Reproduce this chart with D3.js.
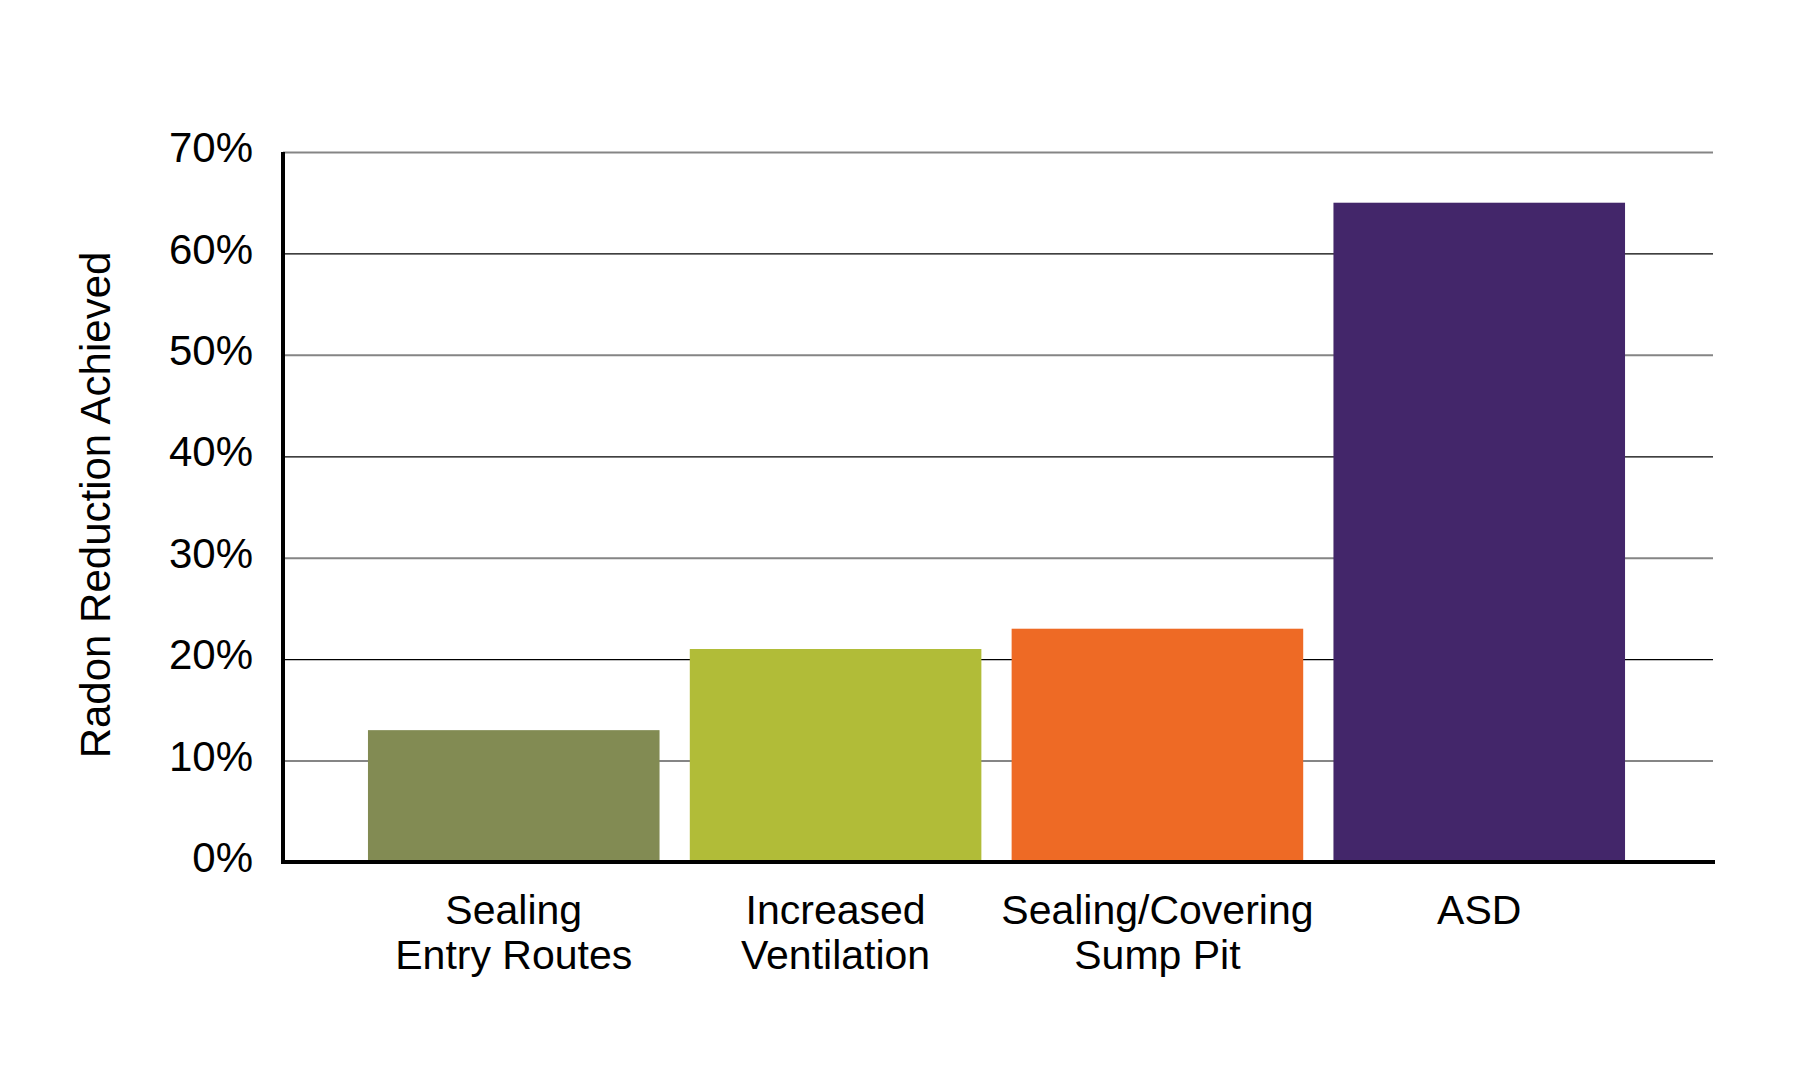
<!DOCTYPE html>
<html>
<head>
<meta charset="utf-8">
<script src="https://cdn.jsdelivr.net/npm/d3@7"></script>
<style>
  body { margin: 0; background: #fff; }
  text { font-family: "Liberation Sans", Arial, Helvetica, sans-serif; fill: #000; }
</style>
</head>
<body>
<svg width="1800" height="1072"></svg>
<script>
var categories = ["Sealing\nEntry Routes", "Increased\nVentilation", "Sealing/Covering\nSump Pit", "ASD"];
var values = [0.13, 0.21, 0.23, 0.65];
var colors = ["#828b53", "#b1bc38", "#ee6a25", "#43266a"];
var tickValues = [0, 0.1, 0.2, 0.3, 0.4, 0.5, 0.6, 0.7];

var margin = {top: 152, right: 87, bottom: 210, left: 283},
    width = 1800 - margin.left - margin.right,
    height = 1072 - margin.top - margin.bottom;

var svg = d3.select("svg")
  .append("g")
    .attr("transform", "translate(" + margin.left + "," + margin.top + ")");

var x = d3.scaleBand()
  .domain(categories)
  .range([0, width - 3])
  .paddingInner(0.094)
  .paddingOuter(0.264);

var y = d3.scaleLinear()
  .domain([0, 0.7])
  .range([height, 0]);

// gridlines + tick labels
var yAxis = svg.append("g")
  .call(d3.axisLeft(y)
    .tickValues(tickValues)
    .tickSize(-width)
    .tickPadding(30)
    .tickFormat(d3.format(".0%")));
yAxis.select(".domain").remove();
yAxis.selectAll(".tick line")
  .attr("stroke", function(d, i) { return i % 2 ? "#858585" : "#000"; })
  .attr("stroke-width", function(d, i) { return i % 2 ? 2 : 1.3; });
yAxis.selectAll(".tick text")
  .attr("dy", "0.23em")
  .style("font-size", "42px")
  .style("font-family", "'Liberation Sans', Arial, sans-serif")
  .attr("fill", "#000");

// bars
svg.selectAll("rect.bar")
  .data(categories)
  .enter()
  .append("rect")
    .attr("class", "bar")
    .attr("x", function(d) { return x(d); })
    .attr("y", function(d, i) { return y(values[i]); })
    .attr("width", x.bandwidth())
    .attr("height", function(d, i) { return y(0) - y(values[i]); })
    .attr("fill", function(d, i) { return colors[i]; });

// axis lines
svg.append("line")
  .attr("x1", 0).attr("x2", 0)
  .attr("y1", y(0.7)).attr("y2", y(0) + 2)
  .attr("stroke", "#000").attr("stroke-width", 4);
svg.append("line")
  .attr("x1", -2).attr("x2", width + 2)
  .attr("y1", y(0)).attr("y2", y(0))
  .attr("stroke", "#000").attr("stroke-width", 4);

// category labels
var labels = svg.selectAll("text.cat")
  .data(categories)
  .enter()
  .append("text")
    .attr("class", "cat")
    .attr("text-anchor", "middle")
    .attr("x", function(d) { return x(d) + x.bandwidth() / 2; })
    .attr("y", height + 62)
    .style("font-size", "41px");
labels.selectAll("tspan")
  .data(function(d) { return d.split("\n"); })
  .enter()
  .append("tspan")
    .attr("x", function() { var p = this.parentNode; return p.getAttribute("x"); })
    .attr("dy", function(d, i) { return i ? 45 : 0; })
    .text(function(d) { return d; });

// y title
svg.append("text")
  .attr("transform", "translate(" + (110 - margin.left) + "," + (505 - margin.top) + ")rotate(-90)")
  .attr("text-anchor", "middle")
  .style("font-size", "42px")
  .text("Radon Reduction Achieved");
</script>
</body>
</html>
